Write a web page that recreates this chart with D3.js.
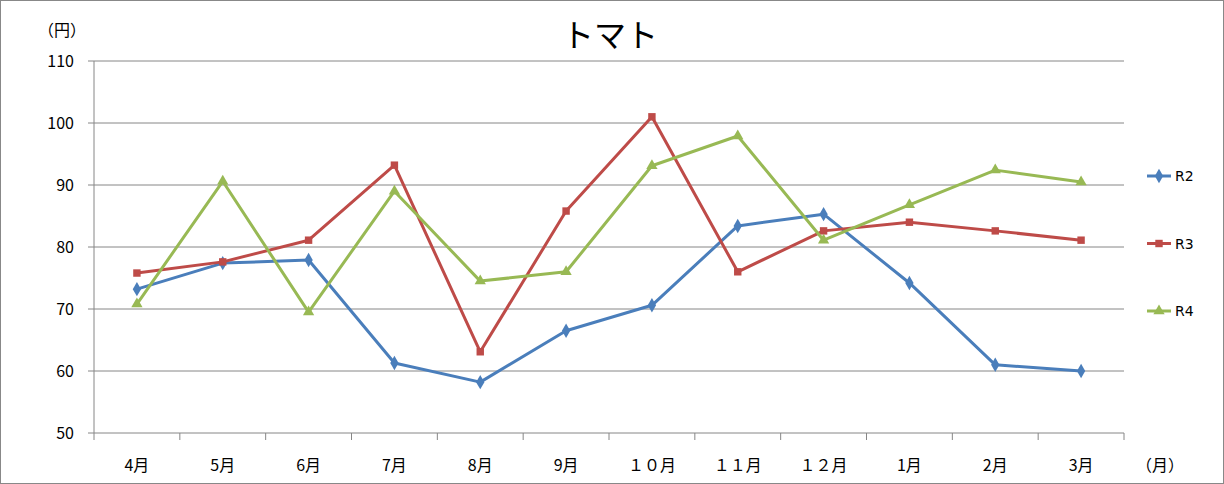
<!DOCTYPE html>
<html><head><meta charset="utf-8">
<script src="https://cdn.jsdelivr.net/npm/d3@7"></script>
<style>body{margin:0;background:#fff}text{font-family:"Noto Sans CJK JP",sans-serif}</style>
</head><body><svg id="c" width="1224" height="484"></svg>
<script>
const months = ["4月","5月","6月","7月","8月","9月","１０月","１１月","１２月","1月","2月","3月"];
const r2 = [73.2,77.4,77.9,61.3,58.2,66.5,70.6,83.4,85.3,74.2,61.0,60.0];
const r3 = [75.8,77.6,81.1,93.2,63.1,85.8,101.0,76.0,82.6,84.0,82.6,81.1];
const r4 = [70.8,90.6,69.5,89.0,74.5,76.0,93.1,97.9,81.1,86.8,92.4,90.5];
const yTicks = [50,60,70,80,90,100,110];
const series = [
  {name:"R2", values:r2, color:"#4a7ebb", marker:"diamond"},
  {name:"R3", values:r3, color:"#be4b48", marker:"square"},
  {name:"R4", values:r4, color:"#98b954", marker:"triangle"}
];

const svg = d3.select("#c");
svg.append("rect").attr("x",0.5).attr("y",0.5).attr("width",1223).attr("height",483)
  .attr("fill","#fff").attr("stroke","#888");

const x = d3.scaleBand().domain(months).range([94,1124]);
const y = d3.scaleLinear().domain([50,110]).range([433,61]);

svg.append("g").selectAll("line").data(yTicks).join("line")
  .attr("x1",94).attr("x2",1124).attr("y1",d=>y(d)).attr("y2",d=>y(d))
  .attr("stroke","#868686");
svg.append("line").attr("x1",94).attr("x2",94).attr("y1",61).attr("y2",433).attr("stroke","#868686");
svg.append("g").selectAll("line").data(yTicks).join("line")
  .attr("x1",88).attr("x2",94).attr("y1",d=>y(d)).attr("y2",d=>y(d)).attr("stroke","#868686");
svg.append("g").selectAll("text").data(yTicks).join("text")
  .attr("x",74).attr("y",d=>y(d)+6).attr("text-anchor","end").attr("font-size",16).text(d=>d);

const bounds = months.map(m=>x(m)).concat([1124]);
svg.append("g").selectAll("line").data(bounds).join("line")
  .attr("x1",d=>d).attr("x2",d=>d).attr("y1",433).attr("y2",440).attr("stroke","#868686");
svg.append("g").selectAll("text").data(months).join("text")
  .attr("x",d=>x(d)+x.bandwidth()/2).attr("y",471).attr("text-anchor","middle")
  .attr("font-size",16).text(d=>d);

svg.append("text").attr("x",610).attr("y",47).attr("text-anchor","middle").attr("font-size",32).text("トマト");
svg.append("text").attr("x",62).attr("y",36).attr("text-anchor","middle").attr("font-size",16).text("（円）");
svg.append("text").attr("x",1160).attr("y",471).attr("text-anchor","middle").attr("font-size",16).text("（月）");

const cx = i => x(months[i]) + x.bandwidth()/2;
const line = d3.line().x((d,i)=>cx(i)).y(d=>y(d));
const sym = {diamond:d3.symbolDiamond, square:d3.symbolSquare, triangle:d3.symbolTriangle};
const sz = {diamond:60, square:55, triangle:55};

series.forEach((s,k)=>{
  svg.append("path").datum(s.values).attr("d",line).attr("fill","none")
    .attr("stroke",s.color).attr("stroke-width",3).attr("stroke-linejoin","round");
  svg.append("g").selectAll("path").data(s.values).join("path")
    .attr("transform",(d,i)=>`translate(${cx(i)},${y(d)})`)
    .attr("d",d3.symbol(sym[s.marker],sz[s.marker])).attr("fill",s.color);
  const ly = 176 + k*67.5;
  svg.append("line").attr("x1",1147).attr("x2",1171).attr("y1",ly).attr("y2",ly)
    .attr("stroke",s.color).attr("stroke-width",3);
  svg.append("path").attr("transform",`translate(1159,${ly})`)
    .attr("d",d3.symbol(sym[s.marker],sz[s.marker])).attr("fill",s.color);
  svg.append("text").attr("x",1175).attr("y",ly+5).attr("font-size",14)
    .style("font-family","Verdana, DejaVu Sans, sans-serif").text(s.name);
});
</script></body></html>
